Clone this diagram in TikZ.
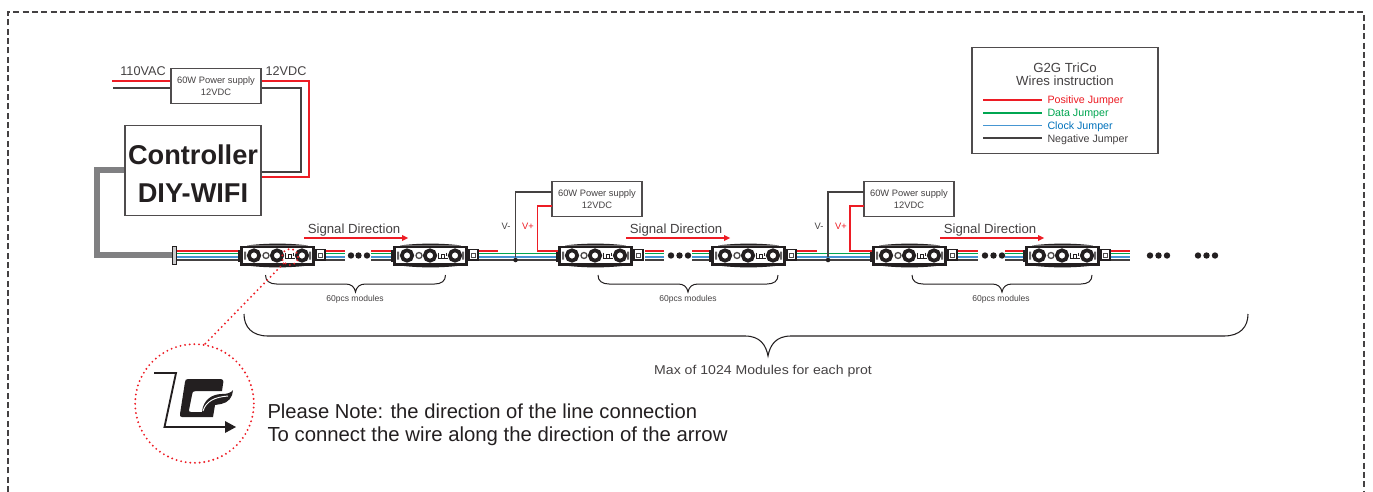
\documentclass[tikz,border=0pt]{standalone}
\usepackage{fontspec}
\setmainfont{Liberation Sans}
\usetikzlibrary{positioning}

\definecolor{wirered}{RGB}{237,28,36}
\definecolor{wiregreen}{RGB}{0,166,81}
\definecolor{wireblue}{RGB}{0,114,188}
\definecolor{wiresky}{RGB}{70,150,210}
\definecolor{wireblack}{RGB}{35,31,32}
\definecolor{wiregrey}{RGB}{128,128,130}

\tikzset{every picture/.style={line width=0.75pt}}
\tikzset{
  redwire/.style={draw=wirered,line width=0.85pt},
  greenwire/.style={draw=wiregreen,line width=0.85pt},
  bluewire/.style={draw=wiresky,line width=1.2pt},
  blackwire/.style={draw=wireblack!85,line width=0.85pt},
  boxnode/.style={draw=wireblack!80,line width=0.8pt,fill=white,inner sep=0pt,align=center},
  psunode/.style={boxnode,minimum width=67.5pt,minimum height=26pt,font=\fontsize{7}{9.5}\selectfont,text=wireblack!85},
  dotnode/.style={circle,fill=wireblack,inner sep=0pt,minimum size=4.8pt},
  tapnode/.style={circle,fill=wireblack,inner sep=0pt,minimum size=3.4pt},
  reddot/.style={draw=wirered,line width=1.6pt,line cap=round,dash pattern=on 0pt off 3.5pt},
  signalarrow/.style={draw=wirered,line width=0.9pt},
  modbrace/.pic={
    \draw[wireblack,line width=0.75pt] (0,0) .. controls (0,-6) and (4,-9) .. (11,-9) -- (80,-9) .. controls (86,-9) and (89,-12) .. (90,-17) .. controls (91,-12) and (94,-9) .. (100,-9) -- (169,-9) .. controls (176,-9) and (180,-6) .. (180,0);
  },
  ledmodule/.pic={
    \fill[wireblack] (-2,-6) rectangle (1,6);
    \fill[wireblack] (0,-10) rectangle (75,10);
    \fill[wireblack] (7,-10) .. controls (25,-12.5) and (50,-12.5) .. (68,-10) -- cycle;
    \fill[wireblack] (7,10) .. controls (25,12.5) and (50,12.5) .. (68,10) -- cycle;
    \fill[white] (3,-7.5) rectangle (72,7.5);
    \fill[wireblack!70] (4,-4) rectangle (6,4) (69,-4) rectangle (71,4);
    \draw[wireblack,line width=2.8pt] (14,0) circle (5.2);
    \draw[wireblack,line width=2.8pt] (37,0) circle (5.2);
    \draw[wireblack,line width=2.8pt] (62,0) circle (5.2);
    \draw[wireblack!80,line width=1pt] (26,0) circle (3);
    \draw[wireblack,line width=0.7pt] (45,3) -- (45,-3) -- (55,-3) (48,-3) -- (48,1) -- (51,1) -- (51,-3) (53,3) -- (53,0);
    \fill[white,draw=wireblack,line width=1pt] (76,-4.5) rectangle (85,6);
    \draw[wireblack!80,line width=0.6pt] (78.5,-2) rectangle (82.5,2.5);
  }
}

\begin{document}
\begin{tikzpicture}[x=0.75pt,y=0.75pt,yscale=-1,xscale=1]
\useasboundingbox (0,0) rectangle (1373,492);

%Shape: Outer frame
\draw [wireblack!85,line width=0.8pt,dash pattern=on 4.5pt off 2.5pt] (8,492) -- (8,12) -- (1364,12) -- (1364,492);

%Wire bundles
\foreach \xa/\xb in {176/240,325/345,371/393,478/558,645/664,692/711,797/872,958/978,1005/1025,1110/1130}{
  \draw [greenwire] (\xa,253.5) -- (\xb,253.5);
  \draw [bluewire] (\xa,257) -- (\xb,257);
  \draw [blackwire] (\xa,260) -- (\xb,260);
}
\foreach \xa/\xb in {176/240,325/345,371/393,478/498,645/664,692/711,797/817,958/978,1005/1025,1110/1130}{
  \draw [redwire] (\xa,251) -- (\xb,251);
}

% Text Node
\node (ctrl) [boxnode,minimum width=102pt,minimum height=68pt] at (193,170.5) {};
\node (ctrllabel) [align=center,inner sep=0pt,font=\fontsize{20.4}{28.5}\selectfont\bfseries,text=wireblack] at (193,173.5) {Controller\\DIY-WIFI};
\node (psua) [psunode] at (216,86) {60W Power supply\\12VDC};
\node (psub) [psunode] at (597,199) {60W Power supply\\12VDC};
\node (psuc) [psunode] at (909,199) {60W Power supply\\12VDC};

%Straight Lines: mains and supply wires
\coordinate (acred) at (112,81);
\coordinate (acblack) at (113,88);
\coordinate (dcred) at (309,177);
\coordinate (dcblack) at (301,172);
\draw [redwire] (acred) -- (acred -| psua.west);
\draw [blackwire] (acblack) -- (acblack -| psua.west);
\draw [redwire] (acred -| psua.east) -| (dcred) -- (dcred -| ctrl.east);
\draw [blackwire] (acblack -| psua.east) -| (dcblack) -- (dcblack -| ctrl.east);

%Straight Lines: data cable
\node (plug) [draw=wireblack,fill=wiregrey!40,line width=0.7pt,inner sep=0pt,minimum width=3pt,minimum height=13.5pt] at (174,255) {};
\draw [draw=wiregrey,line width=4.5pt] (ctrl.west |- 0,170) -| (97,255) -- (plug.west);

%Modules
\foreach \xm in {240,393,558,711,872,1025}{
  \pic at (\xm,255.5) {ledmodule};
}
\foreach \xb in {265.5,598,912}{
  \pic at (\xb,275) {modbrace};
}

%Dots
\foreach \xd in {351,358.5,367,671,679.5,688,985,993.5,1002,1150,1158.5,1167,1198,1206.5,1215}{
  \node [dotnode] at (\xd,255.5) {};
}

%Straight Lines: power injection
\node (tapb) [tapnode] at (515.5,260) {};
\node (tapc) [tapnode] at (828,260) {};
\coordinate (vminb) at (552,192);
\coordinate (vminc) at (864,192);
\coordinate (vplusb) at (552,206);
\coordinate (vplusc) at (864,206);
\coordinate (feedb) at (558,251);
\coordinate (feedc) at (872,251);
\draw [blackwire] (tapb) |- (vminb);
\draw [blackwire] (tapc) |- (vminc);
\draw [redwire] (vplusb) -- (537.5,206) |- (feedb);
\draw [redwire] (vplusc) -- (850,206) |- (feedc);

% Text Node
\node (vmb) [font=\fontsize{7}{8}\selectfont,text=wireblack!85] at (506,226) {V-};
\node (vpb) [font=\fontsize{7}{8}\selectfont,text=wirered] at (528,226) {V+};
\node (vmc) [font=\fontsize{7}{8}\selectfont,text=wireblack!85] at (819,226) {V-};
\node (vpc) [font=\fontsize{7}{8}\selectfont,text=wirered] at (841,226) {V+};

% Text Node
\node (vaclabel) [font=\fontsize{9.5}{11}\selectfont,text=wireblack!85] at (143,71.5) {110VAC};
\node (vdclabel) [font=\fontsize{9.5}{11}\selectfont,text=wireblack!85] at (286,71.5) {12VDC};

%Signal arrows
\foreach \xs in {304,626,940}{
  \node [font=\fontsize{9.9}{12}\selectfont,text=wireblack!85] at (\xs+50,230.5) {Signal Direction};
  \draw [signalarrow] (\xs,238) -- (\xs+100,238);
  \fill [wirered] (\xs+104,238) -- (\xs+98,235) -- (\xs+98,241) -- cycle;
}

% Text Node
\node (counta) [font=\fontsize{6.4}{8}\selectfont,text=wireblack!85] at (355,299) {60pcs modules};
\node (countb) [font=\fontsize{6.4}{8}\selectfont,text=wireblack!85] at (688,299) {60pcs modules};
\node (countc) [font=\fontsize{6.4}{8}\selectfont,text=wireblack!85] at (1001,299) {60pcs modules};

%Curve Lines: long brace
\draw [wireblack,line width=0.8pt] (244,314) .. controls (244,327) and (252,336) .. (268,336) -- (745,336) .. controls (760,336) and (766,345) .. (768,356) .. controls (770,345) and (776,336) .. (791,336) -- (1224,336) .. controls (1240,336) and (1248,327) .. (1248,314);
\node (maxlabel) [font=\fontsize{9.6}{12}\selectfont,text=wireblack!85,xscale=1.1] at (763,371) {Max of 1024 Modules for each prot};

%Detail circle
\node (ringa) [circle,reddot,minimum size=12pt,inner sep=0pt] at (290,257) {};
\node (ringb) [circle,reddot,minimum size=89pt,inner sep=0pt] at (194.5,403.5) {};
\draw [reddot] (ringa.225) -- (ringb.80);

%Shape: logo
\draw [wireblack,line width=1.4pt] (154,373) -- (176,373) -- (164.5,427) -- (226,427);
\fill [wireblack] (236,427) -- (225,421) -- (225,433) -- cycle;
\fill [wireblack] (188,379) -- (220,379) .. controls (223,379) and (224,381) .. (223,384) -- (222,391) -- (196,391) .. controls (193,391) and (192,392) .. (192,395) -- (189,410) .. controls (189,411) and (189,412) .. (191,412) -- (202,412) .. controls (203,400) and (212,394) .. (222,394) .. controls (227,394) and (231,393) .. (233,390) .. controls (233,397) and (228,403) .. (221,404) -- (215,405) -- (213,417) -- (182,417) .. controls (180,417) and (180,416) .. (180,414) -- (185,382) .. controls (185,380) and (186,379) .. (188,379) -- cycle;
\draw [white,line width=0.7pt] (203,411) .. controls (206,401) and (215,397) .. (228,396);

% Text Node
\node (notea) [anchor=west,inner sep=0pt,font=\fontsize{15.15}{18}\selectfont,text=wireblack] at (267,411) {Please Note: the direction of the line connection};
\node (noteb) [anchor=west,inner sep=0pt,font=\fontsize{15.25}{18}\selectfont,text=wireblack] at (267,436) {To connect the wire along the direction of the arrow};

%Legend
\node (legend) [boxnode,minimum width=139.5pt,minimum height=79pt] at (1065,100.5) {};
\node (legtitle) [align=center,inner sep=0pt,font=\fontsize{9.9}{9.9}\selectfont,text=wireblack!85] at (1065,74.5) {G2G TriCo\\Wires instruction};
\node (legpos) [anchor=west,inner sep=0pt,font=\fontsize{8}{9}\selectfont,text=wirered] at (1047,100.5) {Positive Jumper};
\node (legdata) [anchor=west,inner sep=0pt,font=\fontsize{8}{9}\selectfont,text=wiregreen] at (1047,114) {Data Jumper};
\node (legclock) [anchor=west,inner sep=0pt,font=\fontsize{8}{9}\selectfont,text=wireblue] at (1047,127) {Clock Jumper};
\node (legneg) [anchor=west,inner sep=0pt,font=\fontsize{8}{9}\selectfont,text=wireblack!85] at (1047,140) {Negative Jumper};
\draw [redwire] (983,100) -- (1042,100);
\draw [greenwire] (983,113) -- (1042,113);
\draw [bluewire] (983,125.5) -- (1042,125.5);
\draw [blackwire] (983,138) -- (1042,138);

\end{tikzpicture}
\end{document}
